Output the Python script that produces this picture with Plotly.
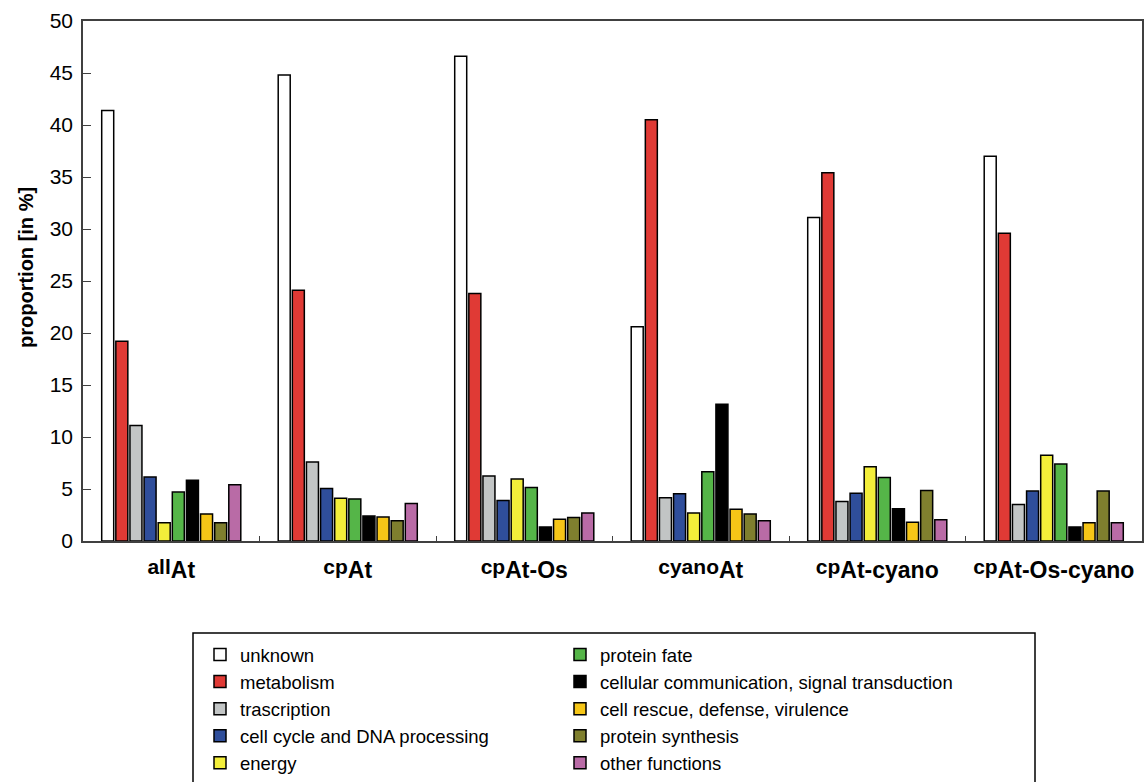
import plotly.graph_objects as go

SUB = '<sub><span style="font-size:23px">{}</span></sub>'
groups = ["<b>all" + SUB.format("At") + "</b>", "<b>cp" + SUB.format("At") + "</b>",
          "<b>cp" + SUB.format("At-Os") + "</b>", "<b>cyano" + SUB.format("At") + "</b>",
          "<b>cp" + SUB.format("At-cyano") + "</b>", "<b>cp" + SUB.format("At-Os-cyano") + "</b>"]

categories = ["unknown", "metabolism", "trascription", "cell cycle and DNA processing", "energy",
              "protein fate", "cellular communication, signal transduction",
              "cell rescue, defense, virulence", "protein synthesis", "other functions"]

unknown = [41.4, 44.8, 46.6, 20.6, 31.1, 37.0]
metabolism = [19.2, 24.1, 23.8, 40.5, 35.4, 29.6]
trascription = [11.1, 7.6, 6.25, 4.15, 3.8, 3.5]
cell_cycle = [6.15, 5.05, 3.9, 4.55, 4.6, 4.8]
energy = [1.75, 4.1, 5.95, 2.7, 7.15, 8.25]
protein_fate = [4.7, 4.05, 5.15, 6.65, 6.1, 7.4]
cellular_comm = [5.85, 2.4, 1.35, 13.15, 3.1, 1.35]
cell_rescue = [2.6, 2.3, 2.1, 3.05, 1.8, 1.75]
protein_synth = [1.75, 1.95, 2.25, 2.6, 4.85, 4.8]
other = [5.4, 3.6, 2.7, 1.95, 2.05, 1.75]

series = [unknown, metabolism, trascription, cell_cycle, energy,
          protein_fate, cellular_comm, cell_rescue, protein_synth, other]
colors = ["#ffffff", "#e03a35", "#c2c5c5", "#2f4e9b", "#f3ee3a",
          "#55b548", "#000000", "#f6c617", "#7f7f2e", "#b96ba6"]

fig = go.Figure()
for i, (name, vals, col) in enumerate(zip(categories, series, colors)):
    fig.add_trace(go.Bar(
        x=groups, y=vals, name=name,
        marker=dict(color=col, line=dict(color="#000000", width=1.5)),
        legend="legend" if i < 5 else "legend2",
    ))

font_family = "Liberation Sans, Arial, sans-serif"
legend_font = dict(size=18.5, family=font_family)
fig.update_layout(
    width=1144, height=782,
    margin=dict(l=83, r=2, t=21, b=241, autoexpand=False),
    paper_bgcolor="white", plot_bgcolor="white",
    barmode="group", bargap=0.2, bargroupgap=0.15,
    font=dict(family=font_family, color="#000000"),
    showlegend=True,
    legend=dict(x=200 / 1144, y=1 - 636 / 782, xref="container", yref="container",
                xanchor="left", yanchor="top", font=legend_font,
                bgcolor="rgba(0,0,0,0)", itemclick=False, tracegroupgap=0),
    legend2=dict(x=560 / 1144, y=1 - 636 / 782, xref="container", yref="container",
                 xanchor="left", yanchor="top", font=legend_font,
                 bgcolor="rgba(0,0,0,0)", itemclick=False, tracegroupgap=0),
    shapes=[dict(type="rect", xref="paper", yref="paper",
                 x0=(193 - 83) / 1059, x1=(1035 - 83) / 1059,
                 y0=(541 - 790) / 520, y1=(541 - 633) / 520,
                 line=dict(color="#000000", width=1.5), fillcolor="rgba(0,0,0,0)")],
    annotations=[dict(text="<b>proportion [in %]</b>", xref="paper", yref="paper",
                      x=(26 - 83) / 1059, y=(541 - 268) / 520, textangle=-90,
                      showarrow=False, xanchor="center", yanchor="middle",
                      font=dict(size=20, family=font_family, color="#000000"))],
)
fig.update_xaxes(
    showline=True, linecolor="#404040", linewidth=1.5, mirror=True,
    ticks="inside", ticklen=5, tickcolor="#404040", tickson="boundaries",
    tickfont=dict(size=21, family=font_family, color="#000000"),
    showgrid=False, automargin=False, tickangle=0, ticklabelstandoff=6,
)
fig.update_yaxes(
    range=[0, 50], dtick=5, showline=True, linecolor="#404040", linewidth=1.5, mirror=True,
    ticks="inside", ticklen=8, tickcolor="#404040",
    tickfont=dict(size=21, family=font_family, color="#000000"),
    showgrid=False, zeroline=False, automargin=False, ticklabelstandoff=4,
)

fig.write_html("out.html", config={"displayModeBar": False},
               post_script="document.body.style.margin='0';")
